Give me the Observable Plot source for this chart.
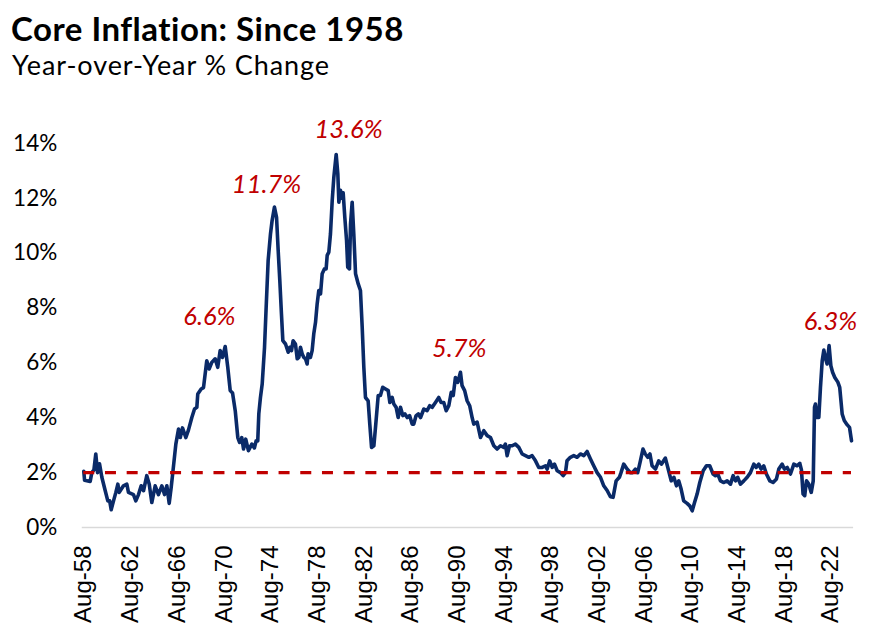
<!DOCTYPE html>
<html>
<head>
<meta charset="utf-8">
<script src="https://cdn.jsdelivr.net/npm/d3@7"></script>
<script src="https://cdn.jsdelivr.net/npm/@observablehq/plot@0.6"></script>
<style>
  html, body { margin: 0; padding: 0; background: #fff; }
  #wrap { width: 892px; height: 641px; position: relative; overflow: hidden; }
  #header { position: relative; height: 90px; }
  #title { position: absolute; left: 11px; top: 12.2px; margin: 0; font-family: Lato, sans-serif; font-weight: 700; font-size: 33px; letter-spacing: 0.5px; line-height: 32px; color: #000; white-space: nowrap; }
  #subtitle { position: absolute; left: 12px; top: 50.6px; margin: 0; font-family: Lato, sans-serif; font-weight: 400; font-size: 27px; letter-spacing: 0.9px; line-height: 28px; color: #000; white-space: nowrap; }
  #chart svg { display: block; }
</style>
</head>
<body>
<div id="wrap">
  <div id="header">
    <div id="title">Core Inflation: Since 1958</div>
    <div id="subtitle">Year-over-Year % Change</div>
  </div>
  <div id="chart"></div>
</div>
<script>
// Decimal year of each reading
const years = [
  1958.58, 1958.65, 1959.13, 1959.27, 1959.45, 1959.61, 1959.76, 1959.93, 1960.13, 1960.42,
  1960.64, 1960.80, 1960.93, 1961.13, 1961.33, 1961.50, 1961.62, 1961.98, 1962.27, 1962.41,
  1962.84, 1963.04, 1963.27, 1963.50, 1963.70, 1963.98, 1964.19, 1964.41, 1964.70, 1964.98,
  1965.27, 1965.50, 1965.70, 1965.90, 1966.07, 1966.21, 1966.47, 1966.70, 1966.85, 1967.04,
  1967.33, 1967.55, 1967.84, 1968.07, 1968.27, 1968.35, 1968.64, 1968.84, 1969.12, 1969.33,
  1969.55, 1969.84, 1970.06, 1970.27, 1970.47, 1970.70, 1970.92, 1971.13, 1971.33, 1971.56,
  1971.78, 1971.93, 1972.12, 1972.27, 1972.46, 1972.69, 1972.98, 1973.20, 1973.35, 1973.49,
  1973.58, 1973.72, 1973.87, 1974.07, 1974.21, 1974.38, 1974.58, 1974.72, 1974.92, 1975.10,
  1975.24, 1975.38, 1975.52, 1975.64, 1975.87, 1976.10, 1976.24, 1976.38, 1976.52, 1976.72,
  1976.87, 1977.01, 1977.15, 1977.30, 1977.44, 1977.58, 1977.72, 1977.80, 1978.00, 1978.15,
  1978.29, 1978.44, 1978.58, 1978.72, 1978.87, 1979.01, 1979.21, 1979.35, 1979.44, 1979.58,
  1979.72, 1979.87, 1980.01, 1980.21, 1980.35, 1980.44, 1980.58, 1980.72, 1980.81, 1980.95,
  1981.10, 1981.20, 1981.35, 1981.44, 1981.58, 1981.72, 1981.87, 1982.10, 1982.29, 1982.44,
  1982.58, 1982.72, 1982.95, 1983.09, 1983.24, 1983.44, 1983.58, 1983.81, 1984.00, 1984.20,
  1984.44, 1984.67, 1984.81, 1985.01, 1985.15, 1985.35, 1985.52, 1985.72, 1985.92, 1986.10,
  1986.30, 1986.50, 1986.72, 1986.86, 1987.06, 1987.25, 1987.44, 1987.72, 1988.00, 1988.23,
  1988.43, 1988.72, 1989.00, 1989.20, 1989.43, 1989.64, 1989.86, 1990.07, 1990.24, 1990.43,
  1990.63, 1990.86, 1991.00, 1991.22, 1991.43, 1991.65, 1991.86, 1992.00, 1992.29, 1992.58,
  1992.86, 1993.15, 1993.43, 1993.72, 1994.00, 1994.29, 1994.57, 1994.71, 1994.86, 1995.06,
  1995.29, 1995.57, 1995.86, 1996.15, 1996.43, 1996.72, 1997.00, 1997.29, 1997.57, 1997.86,
  1998.15, 1998.29, 1998.51, 1998.72, 1998.92, 1999.15, 1999.43, 1999.66, 1999.86, 1999.99,
  2000.28, 2000.57, 2000.86, 2001.14, 2001.43, 2001.71, 2002.00, 2002.28, 2002.57, 2002.86,
  2003.14, 2003.43, 2003.71, 2003.94, 2004.20, 2004.48, 2004.62, 2004.85, 2005.14, 2005.43,
  2005.60, 2005.85, 2006.05, 2006.28, 2006.50, 2006.70, 2006.92, 2007.10, 2007.28, 2007.57,
  2007.85, 2008.08, 2008.42, 2008.70, 2008.92, 2009.15, 2009.37, 2009.57, 2009.77, 2009.99,
  2010.28, 2010.51, 2010.72, 2010.92, 2011.14, 2011.37, 2011.66, 2011.94, 2012.22, 2012.51,
  2012.71, 2012.91, 2013.14, 2013.43, 2013.71, 2014.00, 2014.23, 2014.43, 2014.62, 2014.85,
  2015.14, 2015.43, 2015.71, 2016.00, 2016.20, 2016.42, 2016.62, 2016.85, 2017.08, 2017.37,
  2017.65, 2017.94, 2018.14, 2018.43, 2018.62, 2018.86, 2019.14, 2019.43, 2019.71, 2019.94,
  2020.08, 2020.22, 2020.36, 2020.51, 2020.71, 2020.92, 2021.09, 2021.20, 2021.28, 2021.43,
  2021.57, 2021.71, 2021.86, 2022.00, 2022.12, 2022.28, 2022.45, 2022.60, 2022.75, 2022.94,
  2023.20, 2023.36, 2023.57, 2023.75, 2023.99, 2024.20, 2024.37
];
// Core inflation, year-over-year %
const values = [
  2.05, 1.72, 1.68, 2.00, 2.10, 2.68, 2.00, 2.32, 1.83, 1.34,
  0.97, 0.97, 0.65, 0.97, 1.28, 1.58, 1.28, 1.52, 1.58, 1.28,
  1.20, 0.97, 1.20, 1.52, 1.34, 1.89, 1.58, 0.91, 1.52, 1.20,
  1.52, 1.20, 1.52, 0.88, 1.46, 2.00, 3.04, 3.59, 3.28, 3.63,
  3.28, 3.55, 4.01, 4.32, 4.38, 4.87, 5.05, 5.10, 6.08, 5.78,
  6.02, 6.15, 5.84, 6.45, 6.20, 6.60, 5.84, 4.99, 4.90, 4.26,
  3.28, 3.10, 3.28, 2.86, 3.22, 2.80, 3.04, 2.90, 3.16, 3.16,
  4.14, 4.74, 5.23, 6.57, 8.03, 9.73, 10.70, 11.19, 11.68, 11.31,
  10.10, 9.00, 7.79, 6.81, 6.69, 6.39, 6.57, 6.45, 6.81, 6.69,
  6.15, 6.20, 6.57, 6.33, 6.20, 6.15, 5.96, 6.33, 6.20, 6.45,
  7.06, 7.48, 8.15, 8.64, 8.52, 9.25, 9.43, 9.43, 9.92, 10.04,
  10.70, 11.92, 12.77, 13.60, 12.90, 11.86, 12.29, 12.00, 12.20, 11.31,
  10.46, 9.49, 9.43, 11.07, 11.86, 10.70, 9.25, 8.88, 8.64, 7.30,
  5.84, 4.74, 4.62, 3.77, 2.92, 2.98, 3.65, 4.81, 4.81, 5.11,
  5.05, 4.99, 4.56, 4.74, 4.50, 4.38, 4.01, 4.38, 4.08, 4.14,
  4.01, 4.08, 3.77, 3.77, 4.08, 4.14, 4.01, 4.32, 4.26, 4.44,
  4.38, 4.56, 4.74, 4.56, 4.56, 4.26, 4.44, 4.93, 4.81, 5.47,
  5.29, 5.66, 5.17, 4.99, 4.62, 4.44, 4.01, 3.77, 3.84, 3.28,
  3.53, 3.35, 3.28, 2.98, 2.86, 2.98, 2.92, 3.04, 2.62, 2.98,
  2.98, 3.04, 2.92, 2.68, 2.62, 2.56, 2.62, 2.43, 2.19, 2.19,
  2.25, 2.13, 2.43, 2.19, 2.31, 2.07, 2.00, 1.89, 2.00, 2.43,
  2.56, 2.62, 2.56, 2.68, 2.62, 2.77, 2.50, 2.25, 2.00, 1.83,
  1.52, 1.35, 1.12, 1.10, 1.70, 1.83, 2.00, 2.31, 2.13, 2.00,
  2.00, 2.13, 2.00, 2.43, 2.86, 2.68, 2.56, 2.68, 2.25, 2.13,
  2.43, 2.31, 2.53, 2.07, 1.70, 1.83, 1.52, 1.70, 1.40, 0.97,
  0.88, 0.79, 0.61, 0.91, 1.22, 1.64, 2.07, 2.25, 2.25, 1.95,
  1.89, 1.95, 1.70, 1.64, 1.70, 1.58, 1.89, 1.70, 1.83, 1.58,
  1.70, 1.83, 2.00, 2.31, 2.19, 2.31, 2.13, 2.25, 1.95, 1.70,
  1.64, 1.77, 2.13, 2.31, 2.13, 2.19, 1.95, 2.31, 2.25, 2.34,
  2.10, 1.22, 1.16, 1.70, 1.58, 1.28, 1.70, 4.38, 4.50, 4.01,
  4.01, 5.11, 6.08, 6.47, 6.20, 5.96, 6.63, 5.90, 5.66, 5.47,
  5.30, 5.11, 4.14, 3.90, 3.75, 3.65, 3.16
];

// Axis ticks
const yTicks = [0, 2, 4, 6, 8, 10, 12, 14];
const xTicks = [1958.583, 1962.583, 1966.583, 1970.583, 1974.583, 1978.583, 1982.583, 1986.583,
                1990.583, 1994.583, 1998.583, 2002.583, 2006.583, 2010.583, 2014.583, 2018.583, 2022.583];
const xTickLabels = ["Aug-58", "Aug-62", "Aug-66", "Aug-70", "Aug-74", "Aug-78", "Aug-82", "Aug-86",
                     "Aug-90", "Aug-94", "Aug-98", "Aug-02", "Aug-06", "Aug-10", "Aug-14", "Aug-18", "Aug-22"];

// Target line
const targetRate = 2;

// Peak annotations: label, centre year, centre value
const annoLabels = ["6.6%", "11.7%", "13.6%", "5.7%", "6.3%"];
const annoYears  = [1969.35, 1974.24, 1981.27, 1990.76, 2022.57];
const annoValues = [7.68, 12.51, 14.49, 6.51, 7.49];

const series = years.map((t, i) => ({t, v: values[i]}));
const annos = annoLabels.map((label, i) => ({label, t: annoYears[i], v: annoValues[i]}));

const navy = "#0a2a68";
const red = "#c00000";

const chart = Plot.plot({
  width: 892,
  height: 551,
  marginTop: 53,
  marginBottom: 114,
  marginLeft: 81.75,
  marginRight: 38.9,
  style: { background: "#fff", overflow: "visible" },
  x: { type: "linear", domain: [1958.45, 2024.55] },
  y: { domain: [0, 14] },
  marks: [
    Plot.ruleY([0], { stroke: "#d9d9d9", strokeWidth: 1.3 }),
    Plot.axisY({
      ticks: yTicks, tickFormat: d => d + "%", tickSize: 0, tickPadding: 25,
      fontSize: 22.5, fontFamily: "Lato, sans-serif", fill: "#000", label: null
    }),
    Plot.axisX({
      ticks: xTicks, tickFormat: d => xTickLabels[xTicks.indexOf(d)],
      tickRotate: -90, tickSize: 0, tickPadding: 18,
      fontSize: 24, fontFamily: "'Liberation Sans', Arial, sans-serif", fill: "#000", label: null
    }),
    Plot.lineY(series, {
      x: "t", y: "v", stroke: navy, strokeWidth: 3.6,
      strokeLinejoin: "round", strokeLinecap: "round"
    }),
    Plot.ruleY([targetRate], {
      x1: years[0], x2: years[years.length - 1],
      stroke: red, strokeWidth: 3.2, strokeDasharray: "11,10.7"
    }),
    Plot.text(annos, {
      x: "t", y: "v", text: "label", fill: red, fontSize: 25.5,
      fontStyle: "italic", fontFamily: "Lato, sans-serif", textAnchor: "middle", lineAnchor: "middle"
    })
  ]
});
document.getElementById("chart").appendChild(chart);
</script>
</body>
</html>
